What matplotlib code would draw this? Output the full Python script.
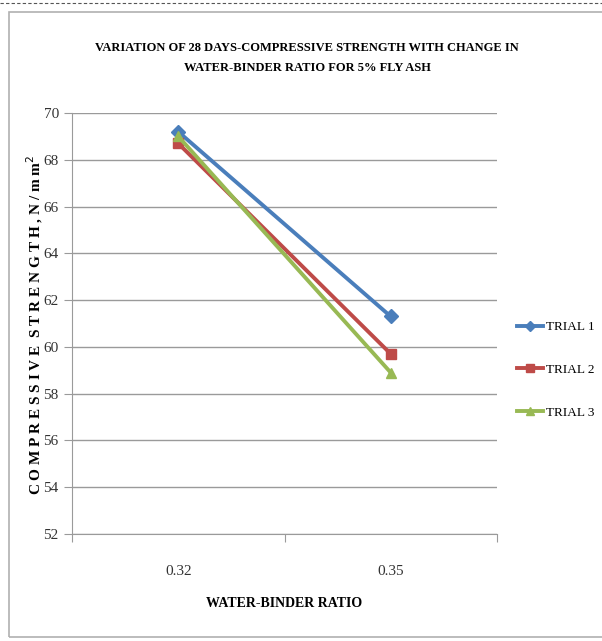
import matplotlib.pyplot as plt
from matplotlib.patches import Rectangle
from matplotlib.lines import Line2D

# data
ratios = ["0.32", "0.35"]
trial1 = [69.2, 61.3]
trial2 = [68.7, 59.7]
trial3 = [69.0, 58.9]
y_ticks = [52, 54, 56, 58, 60, 62, 64, 66, 68, 70]

plt.rcParams['font.family'] = ['Liberation Serif', 'DejaVu Serif']

fig = plt.figure(figsize=(6.02, 6.41), dpi=100)

# outer frame of the chart and dashed line above it
fig.add_artist(Rectangle((9 / 602, 4 / 641), 600 / 602, 625 / 641,
                         transform=fig.transFigure, fill=False,
                         edgecolor='#b0b0b0', linewidth=1.2))
fig.add_artist(Line2D([0, 1], [1 - 3 / 641, 1 - 3 / 641], transform=fig.transFigure,
                      color='#555555', linewidth=0.8, linestyle=(0, (3, 2))))

ax = fig.add_axes([72 / 602, 1 - 534 / 641, 425 / 602, 421 / 641])

x = list(range(len(ratios)))
ax.plot(x, trial1, color='#4A7EBB', linewidth=2.8, marker='D', markersize=7, label='TRIAL 1')
ax.plot(x, trial2, color='#BE4B48', linewidth=2.8, marker='s', markersize=7, label='TRIAL 2')
ax.plot(x, trial3, color='#98B954', linewidth=2.8, marker='^', markersize=7, label='TRIAL 3')

ax.set_xlim(-0.5, 1.5)
ax.set_ylim(52, 70)
ax.set_yticks(y_ticks)
ax.set_yticklabels([str(v) for v in y_ticks], fontsize=11, color='#333333')
ax.yaxis.grid(True, color='#9a9a9a', linewidth=1)
ax.set_axisbelow(True)

# categories sit between the tick marks
ax.set_xticks([-0.5, 0.5, 1.5])
ax.set_xticklabels([])
ax.set_xticks(x, minor=True)
ax.set_xticklabels(ratios, minor=True, fontsize=11, color='#333333')
ax.tick_params(axis='x', which='minor', length=0, pad=22)
ax.tick_params(axis='x', which='major', length=6, color='#9a9a9a')
ax.tick_params(axis='y', length=6, color='#9a9a9a')

for side in ['top', 'right']:
    ax.spines[side].set_visible(False)
ax.spines['left'].set_color('#9a9a9a')
ax.spines['bottom'].set_color('#9a9a9a')

ax.set_xlabel('WATER-BINDER RATIO', fontsize=10, fontweight='bold', labelpad=14)

# wide letter spacing like the original axis title
ylab = '  '.join(' '.join(w) for w in ['COMPRESSIVE', 'STRENGTH,N/mm']) + '$^{2}$'
ax.set_ylabel(ylab, fontsize=11, fontweight='bold')
ax.yaxis.set_label_coords(-0.064, 0.496)

fig.text(0.51, 1 - 58 / 641,
         'VARIATION OF 28 DAYS-COMPRESSIVE STRENGTH WITH CHANGE IN\nWATER-BINDER RATIO FOR 5% FLY ASH',
         ha='center', va='center', fontsize=9, fontweight='bold', linespacing=1.9)

ax.legend(loc='center left', bbox_to_anchor=(1.018, 0.39), frameon=False,
          fontsize=9.5, handlelength=2.0, labelspacing=2.3, handletextpad=0.2,
          markerscale=0.8)

fig.savefig('out.png', dpi=100)
